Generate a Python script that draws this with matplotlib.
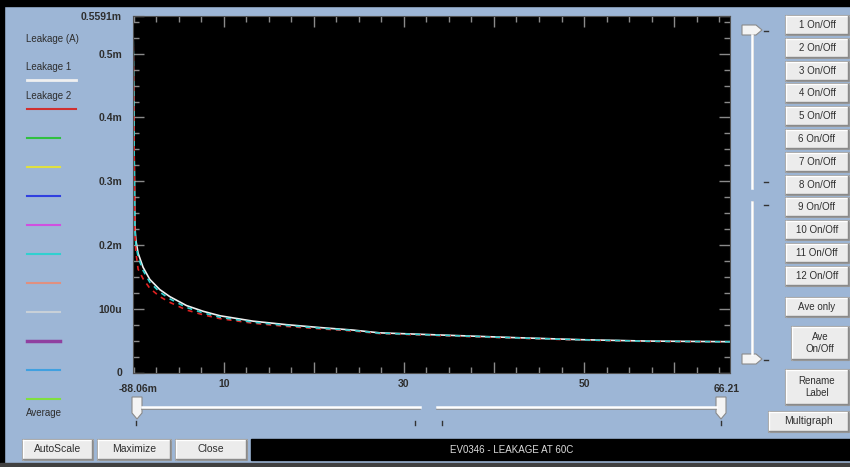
import numpy as np
import matplotlib
matplotlib.use("Agg")
import matplotlib.pyplot as plt
from matplotlib.patches import Rectangle, Polygon
from matplotlib.ticker import FixedLocator, MultipleLocator

plt.rcParams['font.family'] = ['Liberation Sans', 'DejaVu Sans']

# Données (temps, courant de fuite en mA)
temps = [-0.08806, 0.11, 0.22, 0.48, 1.03, 1.78, 2.89, 4.0, 5.85, 7.7, 9.56,
         13.26, 16.97, 20.67, 24.37, 27.3, 34.7, 42.1, 49.6, 57.0, 66.21]
leak1_mA = [0.5591, 0.232, 0.208, 0.187, 0.165, 0.146, 0.130, 0.119, 0.105, 0.096, 0.089,
            0.0805, 0.075, 0.0705, 0.0665, 0.0622, 0.0585, 0.0548, 0.0515, 0.0493, 0.0483]
leak2_mA = [0.5591, 0.222, 0.190, 0.162, 0.147, 0.132, 0.119, 0.110, 0.098, 0.0905, 0.0845,
            0.0772, 0.0722, 0.0685, 0.0650, 0.0610, 0.0575, 0.0540, 0.0508, 0.0487, 0.0478]
moy_mA = [0.5591, 0.228, 0.202, 0.181, 0.160, 0.1415, 0.126, 0.1155, 0.102, 0.0935, 0.0867,
          0.0788, 0.0737, 0.0695, 0.0658, 0.0616, 0.058, 0.0544, 0.0512, 0.049, 0.048]

y_ticks = [0, 1e-4, 2e-4, 3e-4, 4e-4, 5e-4, 5.591e-4]
y_labels = ['0', '100u', '0.2m', '0.3m', '0.4m', '0.5m', '0.5591m']
x_ticks = [10, 20, 30, 40, 50, 60]
x_labels = ['10', '', '30', '', '50', '']
x_min, x_max = -0.08806, 66.21

legend_colors = ['#30c040', '#e0e040', '#3040e0', '#d050e0', '#30d0d0',
                 '#e09080', '#c8d0d8', '#9040a0', '#40a0e0', '#80e040']
buttons = [str(i) + ' On/Off' for i in range(1, 13)]
titre = 'EV0346 - LEAKAGE AT 60C'

panel = '#9db6d6'
txt = '#2e2e2e'

fig = plt.figure(figsize=(8.5, 4.67), dpi=100)
fig.patch.set_facecolor(panel)

# Fond en pixels pour dessiner l'interface
bg = fig.add_axes([0, 0, 1, 1])
bg.set_xlim(0, 850)
bg.set_ylim(467, 0)
bg.axis('off')

bg.add_patch(Rectangle((0, 0), 850, 6, color='black'))
bg.add_patch(Rectangle((0, 0), 4, 467, color='black'))
bg.add_patch(Rectangle((0, 463), 850, 4, color='#404040'))


def bouton(x0, y0, x1, y1, label, size=7.5):
    bg.add_patch(Rectangle((x0, y0), x1 - x0, y1 - y0, facecolor='#ececec',
                           edgecolor='#9a9a9a', lw=0.8))
    bg.plot([x0 + 1, x1 - 1], [y0 + 1, y0 + 1], color='white', lw=1)
    bg.plot([x0 + 1, x0 + 1], [y0 + 1, y1 - 1], color='white', lw=1)
    bg.plot([x0 + 1, x1 - 1], [y1 - 1, y1 - 1], color='#8a8a8a', lw=1)
    bg.plot([x1 - 1, x1 - 1], [y0 + 1, y1 - 1], color='#8a8a8a', lw=1)
    bg.text((x0 + x1) / 2, (y0 + y1) / 2, label, ha='center', va='center',
            fontsize=size, color=txt, linespacing=1.3)


# Légende à gauche
bg.text(26, 39, 'Leakage (A)', fontsize=7, color=txt, va='center')
bg.text(26, 67, 'Leakage 1', fontsize=7, color=txt, va='center')
bg.plot([27, 76], [80, 80], color='#f0f0f0', lw=2)
bg.text(26, 96, 'Leakage 2', fontsize=7, color=txt, va='center')
bg.plot([27, 76], [109, 109], color='#d03030', lw=1.5)
for i, c in enumerate(legend_colors):
    yy = 138 + i * 29
    bg.plot([27, 60], [yy, yy], color=c, lw=2.5 if c == '#9040a0' else 1.5)
bg.text(26, 413, 'Average', fontsize=7, color=txt, va='center')

# Curseur horizontal
for a, b in [(142, 420), (437, 716)]:
    bg.plot([a, b], [408.5, 408.5], color='#8a8a8a', lw=1.2)
    bg.plot([a, b], [407, 407], color='white', lw=1.8)
for xx in [136, 415, 442, 721]:
    bg.plot([xx, xx], [421, 425], color='#333333', lw=1)
for xx in [137, 721]:
    bg.add_patch(Polygon([(xx - 5, 397), (xx + 5, 397), (xx + 5, 413), (xx, 419), (xx - 5, 413)],
                         facecolor='#f4f4f4', edgecolor='#8a8a8a', lw=0.8))

# Curseur vertical
for a, b in [(35, 188), (202, 354)]:
    bg.plot([753.5, 753.5], [a, b], color='#8a8a8a', lw=1.2)
    bg.plot([752, 752], [a, b], color='white', lw=1.8)
for yy in [31, 182, 205, 360]:
    bg.plot([764, 768], [yy, yy], color='#333333', lw=1)
for yy in [30, 359]:
    bg.add_patch(Polygon([(742, yy - 5), (756, yy - 5), (762, yy), (756, yy + 5), (742, yy + 5)],
                         facecolor='#f4f4f4', edgecolor='#8a8a8a', lw=0.8))

# Boutons à droite
for i, label in enumerate(buttons):
    yc = 25 + i * 22.8
    bouton(785, yc - 10, 849, yc + 10, label, size=7)
bouton(785, 297, 849, 317, 'Ave only', size=7)
bouton(791, 326, 849, 360, 'Ave\nOn/Off', size=7)
bouton(785, 369, 849, 405, 'Rename\nLabel', size=7)
bouton(768, 411, 849, 432, 'Multigraph', size=7.5)

# Boutons du bas et titre
bouton(22, 439, 93, 460, 'AutoScale')
bouton(97, 439, 171, 460, 'Maximize')
bouton(175, 439, 247, 460, 'Close')
bg.add_patch(Rectangle((251, 439), 599, 21, color='black'))
bg.text(512, 450, titre, ha='center', va='center', fontsize=7, color='#dcdcdc')

# Graphique
ax = fig.add_axes([133 / 850, (467 - 372.5) / 467, 597 / 850, 356.5 / 467])
ax.set_facecolor('black')
x = np.array(temps)
ax.plot(x, np.array(leak1_mA) * 1e-3, color='#f0f0f0', lw=1.2)
ax.plot(x, np.array(leak2_mA) * 1e-3, color='#e02020', lw=1.2, ls=(0, (3, 3)))
ax.plot(x, np.array(moy_mA) * 1e-3, color='#30d0d0', lw=1.2, ls=(3, (3, 3)))

ax.set_xlim(x_min, x_max)
ax.set_ylim(0, 5.591e-4)
ax.xaxis.set_major_locator(FixedLocator(x_ticks))
ax.set_xticklabels(x_labels)
ax.xaxis.set_minor_locator(MultipleLocator(2.5))
ax.yaxis.set_major_locator(FixedLocator(y_ticks))
ax.set_yticklabels(y_labels)
ax.yaxis.set_minor_locator(MultipleLocator(2.5e-5))
ax.tick_params(which='both', direction='in', color='#8a8a8a', top=True, right=True,
               labelsize=7.5, labelcolor=txt)
ax.tick_params(which='major', length=8, width=1)
ax.tick_params(which='minor', length=4.5, width=1)
ax.tick_params(axis='y', pad=8)
ax.tick_params(axis='x', pad=5)
for lab in ax.get_xticklabels() + ax.get_yticklabels():
    lab.set_fontweight('bold')
for s in ax.spines.values():
    s.set_color('#505050')

# Bornes de l'axe X
ax.annotate('-88.06m', xy=(0, 0), xycoords='axes fraction', xytext=(-10, -12),
            textcoords='offset points', ha='left', va='center', fontsize=7.5,
            fontweight='bold', color=txt)
ax.annotate('66.21', xy=(1, 0), xycoords='axes fraction', xytext=(7, -12),
            textcoords='offset points', ha='right', va='center', fontsize=7.5,
            fontweight='bold', color=txt)

fig.savefig('out.png', dpi=100, facecolor=fig.get_facecolor())
